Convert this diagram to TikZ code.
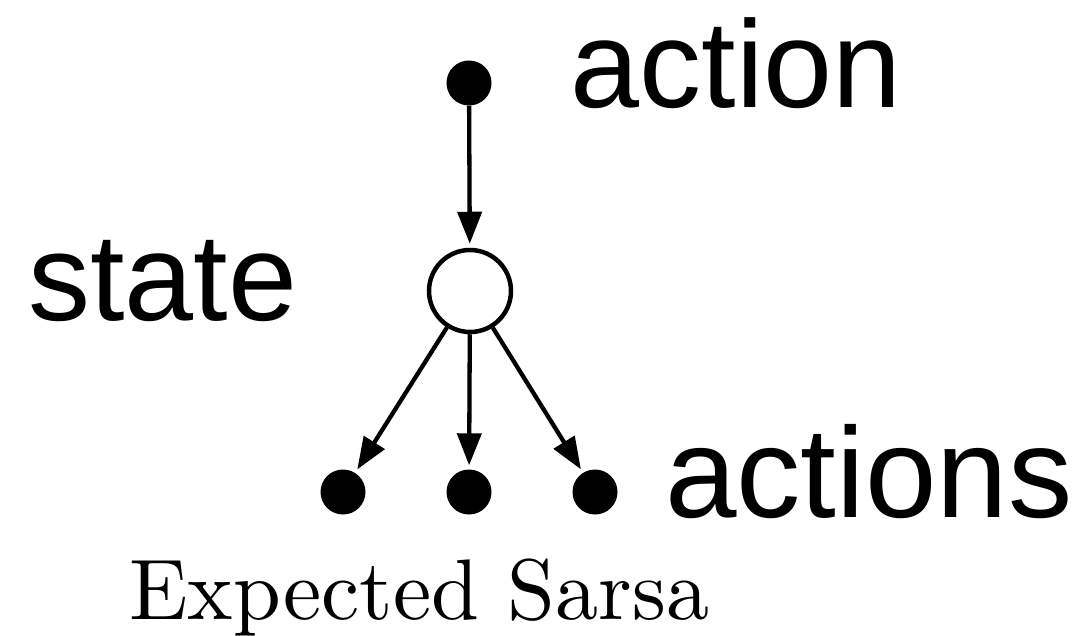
\documentclass[tikz,border=0pt]{standalone}
\usepackage{fontspec}
\usetikzlibrary{arrows.meta}
\newfontfamily\labelfont{Liberation Sans}
\font\capfont="[lmroman10-regular.otf]:mapping=tex-text" at 86pt
\begin{document}
\begin{tikzpicture}[x=1pt,y=-1pt,
  dot/.style={circle,fill=black,inner sep=0pt,minimum size=45pt},
  statenode/.style={circle,draw=black,fill=white,line width=4.5pt,inner sep=0pt,minimum size=82pt},
  conn/.style={line width=4.3pt,-{Triangle[length=32pt,width=24pt]},shorten >=4pt},
  lbl/.style={inner sep=0pt,anchor=base west,font=\labelfont\fontsize{124}{140}\selectfont}]
\useasboundingbox (0,0) rectangle (1076,636);
\node[dot] (a0) at (469,83) {};
\node[statenode] (s) at (470,291) {};
\node[dot] (a1) at (343,492) {};
\node[dot] (a2) at (469,492) {};
\node[dot] (a3) at (595,492) {};
\draw[conn] (a0) -- (s);
\draw[conn] (s) -- (a1);
\draw[conn] (s) -- (a2);
\draw[conn] (s) -- (a3);
\node[lbl] (tAction) at (570.5,108) {action};
\node[lbl] (tState) at (28,320) {state};
\node[lbl,font=\labelfont\fontsize{128.5}{140}\selectfont] (tActions) at (665,517) {actions};
\node[inner sep=0pt,anchor=base west] (cap) at (129,619) {\capfont Expected Sarsa};
\end{tikzpicture}
\end{document}
